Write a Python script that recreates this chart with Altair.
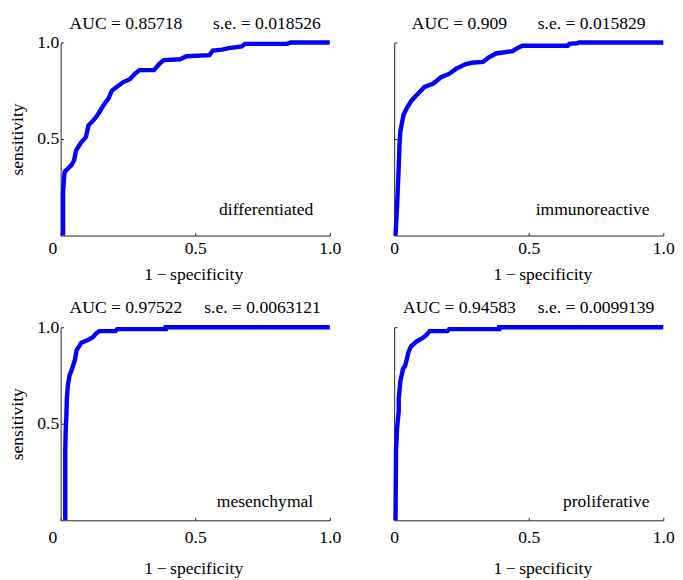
import altair as alt
import pandas as pd

# ---------------- data ----------------
class_names = ["differentiated", "immunoreactive", "mesenchymal", "proliferative"]
auc_values = ["0.85718", "0.909", "0.97522", "0.94583"]
se_values = ["0.018526", "0.015829", "0.0063121", "0.0099139"]

diff_fpr = [0.009, 0.009, 0.012, 0.015, 0.040, 0.050, 0.057, 0.075, 0.094, 0.103, 0.124,
            0.142, 0.160, 0.178, 0.190, 0.208, 0.233, 0.257, 0.275, 0.293, 0.347, 0.365,
            0.383, 0.444, 0.468, 0.553, 0.565, 0.600, 0.625, 0.673, 0.685, 0.842, 0.854, 1.0]
diff_tpr = [0.0, 0.22, 0.29, 0.33, 0.365, 0.39, 0.44, 0.48, 0.51, 0.57, 0.60,
            0.635, 0.677, 0.71, 0.75, 0.77, 0.795, 0.81, 0.837, 0.857, 0.857, 0.887,
            0.909, 0.913, 0.929, 0.934, 0.958, 0.963, 0.971, 0.98, 0.993, 0.993, 1.0, 1.0]

imm_fpr = [0.005, 0.011, 0.017, 0.020, 0.023, 0.035, 0.047, 0.065, 0.083, 0.113, 0.144,
           0.174, 0.204, 0.228, 0.264, 0.288, 0.330, 0.349, 0.379, 0.440, 0.458, 0.476,
           0.645, 0.651, 0.681, 0.687, 1.0]
imm_tpr = [0.0, 0.155, 0.357, 0.475, 0.54, 0.626, 0.66, 0.70, 0.727, 0.77, 0.786,
           0.82, 0.837, 0.862, 0.887, 0.895, 0.899, 0.92, 0.943, 0.955, 0.971, 0.983,
           0.983, 0.993, 0.996, 1.0, 1.0]

mes_fpr = [0.017, 0.017, 0.019, 0.021, 0.023, 0.027, 0.033, 0.041, 0.053, 0.059, 0.077,
           0.101, 0.120, 0.132, 0.144, 0.204, 0.210, 0.390, 0.390, 1.0]
mes_tpr = [0.0, 0.36, 0.48, 0.53, 0.63, 0.70, 0.75, 0.78, 0.83, 0.88, 0.92,
           0.934, 0.948, 0.968, 0.98, 0.98, 0.99, 0.99, 1.0, 1.0]

pro_fpr = [0.005, 0.007, 0.011, 0.017, 0.017, 0.023, 0.033, 0.041, 0.053, 0.062, 0.083,
           0.105, 0.120, 0.132, 0.198, 0.204, 0.390, 0.390, 1.0]
pro_tpr = [0.0, 0.365, 0.48, 0.565, 0.63, 0.72, 0.785, 0.80, 0.87, 0.90, 0.926,
           0.943, 0.96, 0.98, 0.98, 0.99, 0.99, 1.0, 1.0]

x_ticks = [0, 0.5, 1.0]
y_ticks = [0.5, 1.0]

# ---------------- style ----------------
FONT = "Liberation Serif, Times New Roman, DejaVu Serif, serif"
BLUE = "#0000ff"
AXIS_COLOR = "#222222"
W, H = 276, 198
NB = "\u00a0"

txt = dict(labelFont=FONT, labelFontSize=18, labelColor="black",
           titleFont=FONT, titleFontSize=18, titleFontWeight="normal", titleColor="black",
           domainColor=AXIS_COLOR, tickColor=AXIS_COLOR)


def panel(i, fpr, tpr, left, top):
    df = pd.DataFrame({"fpr": fpr, "tpr": tpr, "order": list(range(len(fpr)))})

    if left:
        x_align = {"condition": {"test": "datum.value === 0", "value": "right"}, "value": "center"}
        x_off = {"condition": {"test": "datum.value === 0", "value": -4}, "value": 0}
    else:
        x_align = "center"
        x_off = 0

    x_axis = alt.Axis(
        values=x_ticks,
        labelExpr="datum.value === 0 ? '0' : format(datum.value, '.1f')",
        title="1\u2009\u2212\u2009specificity",
        grid=False,
        tickSize={"expr": "-3"},
        labelPadding=7 if top else 12,
        labelAlign=x_align,
        labelOffset=x_off,
        titleX=136 if left else 152,
        titleY=31 if top else 41,
        titleAnchor="middle",
        labelFlush=False,
        labelOverlap=False,
        **txt,
    )
    if left:
        y_axis = alt.Axis(
            values=y_ticks,
            format=".1f",
            title="sensitivity",
            grid=False,
            tickSize={"expr": "-3"},
            labelPadding=5,
            titlePadding=11,
            labelFlush=False,
            labelOverlap=False,
            **txt,
        )
    else:
        y_axis = alt.Axis(
            values=y_ticks,
            labels=False,
            title=None,
            grid=False,
            tickSize={"expr": "-3"},
            domainColor=AXIS_COLOR,
            tickColor=AXIS_COLOR,
        )

    line = alt.Chart(df).mark_line(color=BLUE, strokeWidth=4.5, strokeJoin="miter").encode(
        x=alt.X("fpr:Q", scale=alt.Scale(domain=[0, 1], nice=False, zero=False), axis=x_axis),
        y=alt.Y("tpr:Q", scale=alt.Scale(domain=[0, 1], nice=False, zero=False), axis=y_axis),
        order="order:Q",
    )

    lab = alt.Chart(pd.DataFrame({"name": [class_names[i]]})).mark_text(
        align="right", baseline="middle", font=FONT, fontSize=18, color="black"
    ).encode(
        x=alt.value(259 if left else 262),
        y=alt.value(172 if top else 179),
        text="name:N",
    )

    gap = NB * (7 if top else 5)
    title = alt.TitleParams(
        text=f"AUC = {auc_values[i]}{gap}s.e. = {se_values[i]}",
        font=FONT,
        fontSize=18,
        fontWeight="normal",
        color="black",
        anchor="middle",
        frame="group",
        baseline="alphabetic",
        offset=-13 if top else -12,
    )

    return alt.layer(line, lab).properties(width=W, height=H, title=title)


p1 = panel(0, diff_fpr, diff_tpr, True, True)
p2 = panel(1, imm_fpr, imm_tpr, False, True)
p3 = panel(2, mes_fpr, mes_tpr, True, False)
p4 = panel(3, pro_fpr, pro_tpr, False, False)

chart = alt.concat(
    p1, p2, p3, p4, columns=2, spacing={"row": 94, "column": 66}, bounds="flush"
).properties(
    padding={"left": 0, "top": 0, "right": 0, "bottom": 0},
    background="white",
).configure_view(
    strokeWidth=0
).configure_axis(
    domainWidth=1,
    tickWidth=1,
)

chart.save("out.html", embed_options={"renderer": "svg", "actions": False})
